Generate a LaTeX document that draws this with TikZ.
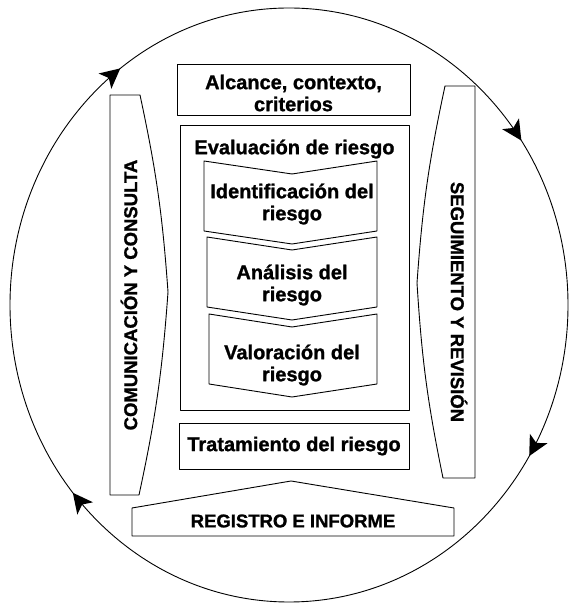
\documentclass[tikz,border=0pt]{standalone}
\usepackage{fontspec}
\setmainfont{Liberation Sans}[BoldFeatures={FakeBold=1.2}]

\begin{document}
\begin{tikzpicture}[x=1pt,y=1pt,line join=round,line cap=round,line width=0.9pt,font=\bfseries\fontsize{20}{22}\selectfont]
	\tikzset{caja/.style={draw,inner sep=0pt,align=center},
	rotulo/.style={inner sep=0pt,align=center},
	lateral/.style={inner sep=0pt,font=\bfseries\fontsize{18.5}{22}\selectfont},
	punta/.pic={\fill(4,0)--(-16,10)--(-11,0)--(-16,-10)--cycle;}}
	\def\rx{279}
	\def\ry{297}
	\useasboundingbox(0,0)rectangle(571,604);
	% circulo exterior con flechas
	\draw(289,299)coordinate(centro)ellipse[x radius=\rx,y radius=\ry];
	\foreach \ang/\nm in {128/p1,34.4/p2,-29.8/p3,-140/p4}{
		\pgfmathsetmacro{\dir}{atan2(-\ry*cos(\ang),\rx*sin(\ang))}
		\path([shift={(\ang:{\rx} and {\ry})}]centro)coordinate(\nm)pic[rotate=\dir]{punta};
	}
	% cajas centrales
	\draw(177,489)rectangle(410,540);
	\node[rotulo](alcance)at(293.5,511){Alcance, contexto,\\criterios};
	\node[caja,minimum width=229,minimum height=285](evaluacion)at(294.5,336.5){};
	\node[rotulo](titulo)at(294.5,455){Evaluación de riesgo};
	\foreach \xl/\yt/\yc/\txt/\nm in {204/443/400/{Identificación del\\riesgo}/identificacion,
		207/367/319/{Análisis del\\riesgo}/analisis,
		209/290/239/{Valoración del\\riesgo}/valoracion}{
		\draw(\xl,\yt)--(292,\yt-13)--(377,\yt)--(377,\yt-70)--(292,\yt-83)--(\xl,\yt-70)--cycle;
		\node[rotulo](\nm)at(292,\yc){\txt};
	}
	\node[caja,minimum width=230,minimum height=46](tratamiento)at(294,158){Tratamiento del riesgo};
	% bandas laterales e inferior
	\draw(110,109)--(110,509)--(140,509)to[bend left=4](168,312)to[bend left=4](139,109)--cycle;
	\node[lateral,rotate=90](comunicacion)at(129,309){COMUNICACIÓN Y CONSULTA};
	\draw(475,126)--(475,518)--(445,518)to[bend right=4](417,321)to[bend right=4](443,126)--cycle;
	\node[lateral,rotate=-90](seguimiento)at(459,302){SEGUIMIENTO Y REVISIÓN};
	\draw(132,68)--(132,96)--(291,123)--(454,96)--(454,68)--cycle;
	\node[lateral](registro)at(293,83){REGISTRO E INFORME};
\end{tikzpicture}
\end{document}
